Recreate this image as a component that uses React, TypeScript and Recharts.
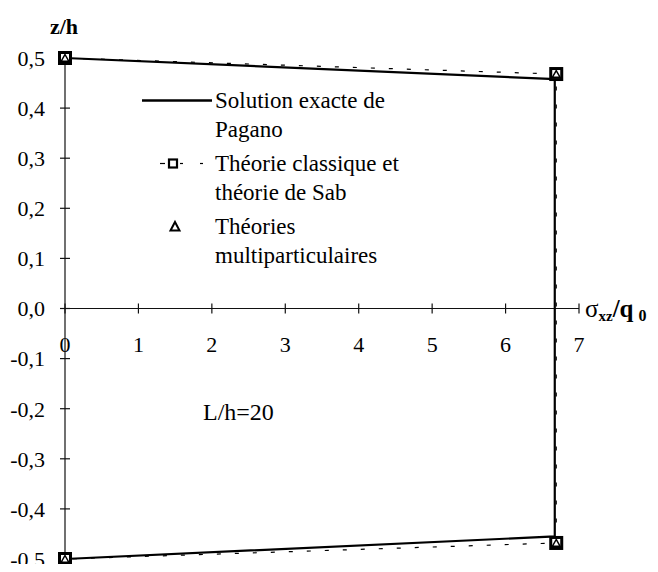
import React from "react";
import {
  ComposedChart,
  Line,
  Scatter,
  XAxis,
  YAxis,
  ReferenceLine,
  Legend,
} from "recharts";

const SERIF = "'Liberation Serif', 'Times New Roman', Times, serif";

// abscisses : sigma_xz / q0, ordonnées : z/h
const xTicks = [0, 1, 2, 3, 4, 5, 6, 7];
const yTicks = [-0.5, -0.4, -0.3, -0.2, -0.1, 0, 0.1, 0.2, 0.3, 0.4, 0.5];

const paganoX = [0, 6.67, 6.67, 0];
const paganoZ = [0.5, 0.458, -0.455, -0.5];

const classiqueX = [0, 6.69, 6.69, 0];
const classiqueZ = [0.5, 0.468, -0.468, -0.5];

const multiX = [0, 6.69, 6.69, 0];
const multiZ = [0.5, 0.468, -0.468, -0.5];

const toPoints = (xs: number[], zs: number[]) => xs.map((x, i) => ({ x, z: zs[i] }));

const pagano = toPoints(paganoX, paganoZ);
const classique = toPoints(classiqueX, classiqueZ);
const multi = toPoints(multiX, multiZ);

const legendOrder = ["pagano", "classique", "multi"];
const legendLines: Record<string, string[]> = {
  pagano: ["Solution exacte de", "Pagano"],
  classique: ["Théorie classique et", "théorie de Sab"],
  multi: ["Théories", "multiparticulaires"],
};

const fmt = (v: number) => v.toFixed(1).replace(".", ",");

function SquareShape(props: any) {
  const { cx, cy } = props;
  if (cx == null || cy == null) return null;
  return (
    <rect x={cx - 5.5} y={cy - 5.5} width={11} height={11} fill="#fff" stroke="#000" strokeWidth={3} />
  );
}

function TriangleShape(props: any) {
  const { cx, cy } = props;
  if (cx == null || cy == null) return null;
  return (
    <polygon
      points={`${cx},${cy - 3.5} ${cx + 3.8},${cy + 3.2} ${cx - 3.8},${cy + 3.2}`}
      fill="#fff"
      stroke="#000"
      strokeWidth={1.5}
    />
  );
}

function LegendIcon({ id }: { id: string }) {
  return (
    <svg width={77} height={29} style={{ display: "block" }}>
      {id === "pagano" && <line x1={4} x2={74} y1={14.5} y2={14.5} stroke="#000" strokeWidth={2.6} />}
      {id === "classique" && (
        <g>
          <line x1={22} x2={27} y1={14.5} y2={14.5} stroke="#000" strokeWidth={1.2} />
          <rect x={31} y={10.5} width={8} height={8} fill="#fff" stroke="#000" strokeWidth={2.2} />
          <line x1={42} x2={45} y1={14.5} y2={14.5} stroke="#000" strokeWidth={1.2} />
          <line x1={62} x2={65} y1={14.5} y2={14.5} stroke="#000" strokeWidth={1.2} />
        </g>
      )}
      {id === "multi" && (
        <polygon points="37,10 41.5,18.5 32.5,18.5" fill="#fff" stroke="#000" strokeWidth={2} />
      )}
    </svg>
  );
}

function LegendeTheories({ payload }: any) {
  const names = new Set((payload || []).map((e: any) => String(e.value)));
  return (
    <div style={{ fontFamily: SERIF, fontSize: 23, lineHeight: "29px", color: "#000" }}>
      {legendOrder
        .filter((k) => names.has(k))
        .map((key) => (
          <div key={key} style={{ display: "flex", marginBottom: 5 }}>
            <div style={{ width: 77 }}>
              <LegendIcon id={key} />
            </div>
            <div>
              {legendLines[key].map((l) => (
                <div key={l} style={{ whiteSpace: "nowrap" }}>
                  {l}
                </div>
              ))}
            </div>
          </div>
        ))}
    </div>
  );
}

export default function App() {
  return (
    <div
      style={{
        position: "relative",
        width: 642,
        height: 564,
        marginBottom: -8,
        background: "#fff",
      }}
    >
      <ComposedChart width={642} height={564} margin={{ top: 50, right: 71, bottom: 13, left: 0 }}>
        <XAxis type="number" dataKey="x" domain={[0, 7]} ticks={xTicks} hide />
        <YAxis
          type="number"
          domain={[-0.5, 0.5]}
          ticks={yTicks}
          width={57}
          tickFormatter={fmt}
          tickLine={false}
          tickSize={0}
          tickMargin={20}
          axisLine={{ stroke: "#111", strokeWidth: 1.2 }}
          tick={{ fill: "#000", fontSize: 22, fontFamily: SERIF }}
        />

        {/* axe des abscisses passant par z = 0 */}
        <ReferenceLine
          y={0}
          stroke="#111"
          strokeWidth={1.2}
          label={(p: any) => {
            const vb = p.viewBox;
            return (
              <text
                x={vb.x + vb.width + 6}
                y={vb.y + 8}
                fontFamily={SERIF}
                fontSize={25}
                fill="#000"
              >
                <tspan>σ</tspan>
                <tspan fontSize={15} fontWeight="bold" dy={4}>
                  xz
                </tspan>
                <tspan fontWeight="bold" dy={-4}>
                  /q
                </tspan>
                <tspan fontSize={16} fontWeight="bold" dx={5} dy={4}>
                  0
                </tspan>
              </text>
            );
          }}
        />

        {yTicks.map((v) => (
          <ReferenceLine
            key={`yt${v}`}
            ifOverflow="visible"
            segment={[
              { x: -0.068, y: v },
              { x: 0.068, y: v },
            ]}
            stroke="#111"
            strokeWidth={1.2}
          />
        ))}

        {xTicks.map((v) => (
          <ReferenceLine
            key={`xt${v}`}
            ifOverflow="visible"
            segment={[
              { x: v, y: -0.01 },
              { x: v, y: 0.01 },
            ]}
            stroke="#111"
            strokeWidth={1.2}
            label={(p: any) => {
              const vb = p.viewBox;
              return (
                <text
                  x={vb.x + vb.width / 2}
                  y={vb.y + vb.height + 38}
                  textAnchor="middle"
                  fontFamily={SERIF}
                  fontSize={22}
                  fill="#000"
                >
                  {v}
                </text>
              );
            }}
          />
        ))}

        <Line
          data={pagano}
          dataKey="z"
          name="pagano"
          type="linear"
          stroke="#000"
          strokeWidth={2.2}
          dot={false}
          isAnimationActive={false}
        />
        <Line
          data={classique}
          dataKey="z"
          name="classique-trait"
          legendType="none"
          type="linear"
          stroke="#000"
          strokeWidth={1.2}
          strokeDasharray="4 14"
          dot={false}
          isAnimationActive={false}
        />
        <Scatter
          data={classique}
          dataKey="z"
          name="classique"
          shape={<SquareShape />}
          isAnimationActive={false}
        />
        <Scatter
          data={multi}
          dataKey="z"
          name="multi"
          shape={<TriangleShape />}
          isAnimationActive={false}
        />

        <Legend
          layout="vertical"
          align="center"
          verticalAlign="middle"
          content={<LegendeTheories />}
          wrapperStyle={{ position: "absolute", top: 77.5, left: 130, width: "auto", height: "auto" }}
        />
      </ComposedChart>

      <div
        style={{
          position: "absolute",
          left: 56,
          top: 19,
          transform: "translate(-50%, -50%)",
          fontFamily: SERIF,
          fontWeight: "bold",
          fontSize: 22,
          lineHeight: 1,
        }}
      >
        z/h
      </div>
      <div
        style={{
          position: "absolute",
          left: 195,
          top: 404,
          transform: "translateY(-50%)",
          fontFamily: SERIF,
          fontSize: 24,
          lineHeight: 1,
        }}
      >
        L/h=20
      </div>
    </div>
  );
}
